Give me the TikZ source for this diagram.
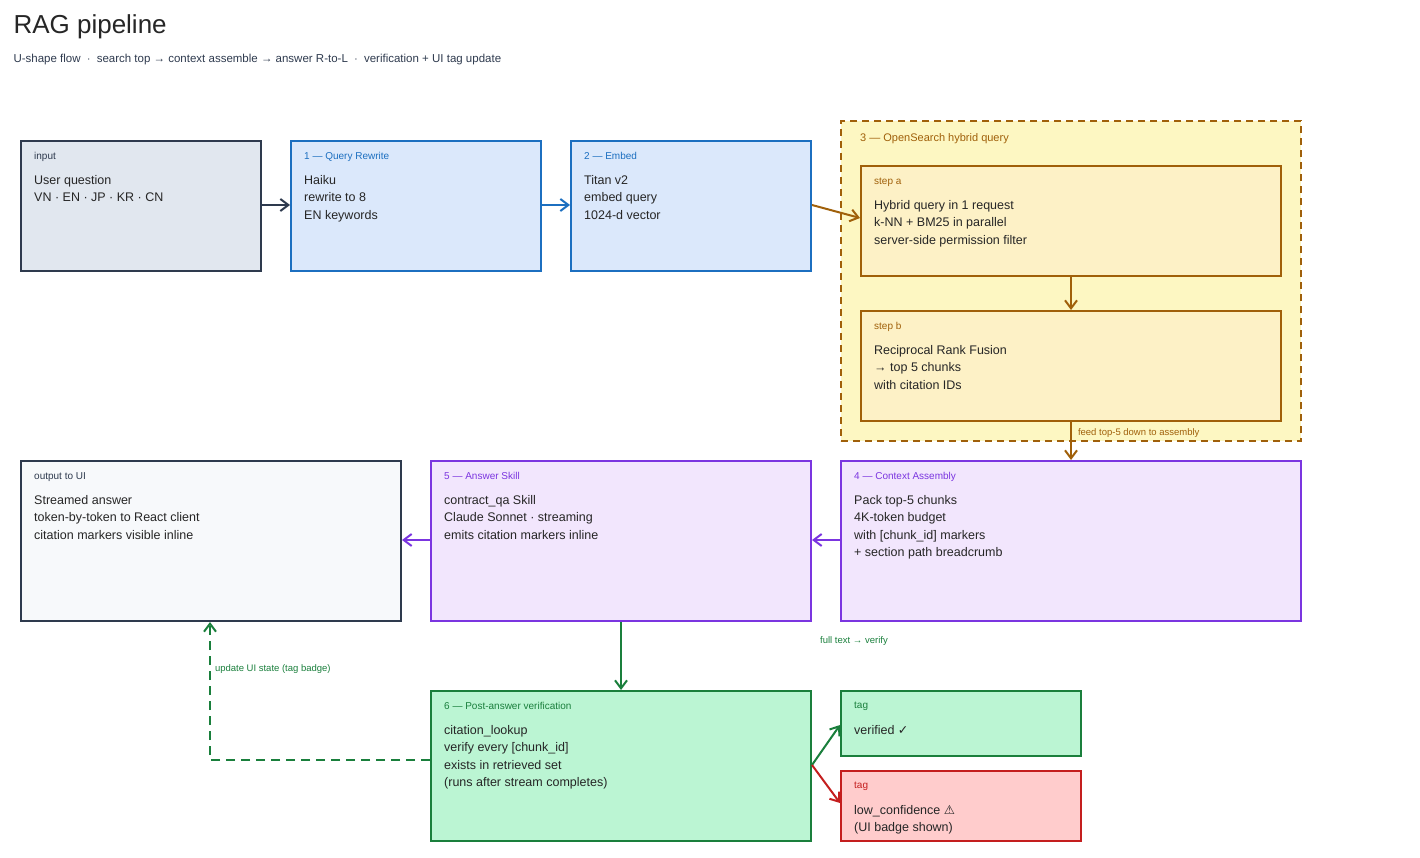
\documentclass[tikz,border=0pt]{standalone}
\usepackage{fontspec}
\setmainfont{Liberation Sans}
\usetikzlibrary{arrows.meta}
\definecolor{slate}{HTML}{2E3A4E}
\definecolor{slatefill}{HTML}{E1E7EF}
\definecolor{outfill}{HTML}{F7F9FB}
\definecolor{blueline}{HTML}{1C6FC0}
\definecolor{bluefill}{HTML}{DBE8FB}
\definecolor{ambline}{HTML}{A0600A}
\definecolor{ambfill}{HTML}{FDF7C2}
\definecolor{stepfill}{HTML}{FDF1C6}
\definecolor{purline}{HTML}{7B35E0}
\definecolor{purfill}{HTML}{F2E6FD}
\definecolor{grnline}{HTML}{1A7F3C}
\definecolor{grnfill}{HTML}{BBF5D3}
\definecolor{redline}{HTML}{C41E1E}
\definecolor{redfill}{HTML}{FFCCCC}
\tikzset{
  box/.style={draw, line width=2pt, anchor=north west, inner sep=0pt},
  hdr/.style={anchor=north west, inner sep=0pt, font=\fontsize{10}{12}\selectfont},
  body/.style={anchor=north west, inner sep=0pt, align=left, text=black!85,
    font=\fontsize{12.5}{17.5}\selectfont},
  arr/.style={-{Straight Barb[length=8pt,width=12pt]}, line width=2pt},
  note/.style={inner sep=0pt, font=\fontsize{9.5}{11}\selectfont}
}
\begin{document}
\begin{tikzpicture}[x=1pt,y=-1pt]
\useasboundingbox (0,0) rectangle (1420,858);
\node[anchor=west, font=\fontsize{26}{30}\selectfont, text=black!85] (title) at (10,27) {RAG pipeline};
\node[anchor=west, font=\fontsize{11.5}{13}\selectfont, text=slate] (sub) at (10,60)
  {U-shape flow \ $\cdot$ \ search top → context assemble → answer R-to-L \ $\cdot$ \ verification + UI tag update};

% group 3
\node[box, dash pattern=on 7pt off 5pt, draw=ambline, fill=ambfill, minimum width=460pt, minimum height=320pt] (grp) at (840,120) {};
\node[hdr, text=ambline, font=\fontsize{11}{13}\selectfont] (grph) at (860,133) {3 — OpenSearch hybrid query};

% boxes
\node[box, draw=slate, fill=slatefill, minimum width=240pt, minimum height=130pt] (inp) at (20,140) {};
\node[box, draw=blueline, fill=bluefill, minimum width=250pt, minimum height=130pt] (rew) at (290,140) {};
\node[box, draw=blueline, fill=bluefill, minimum width=240pt, minimum height=130pt] (emb) at (570,140) {};
\node[box, draw=ambline, fill=stepfill, minimum width=420pt, minimum height=110pt] (sta) at (860,165) {};
\node[box, draw=ambline, fill=stepfill, minimum width=420pt, minimum height=110pt] (stb) at (860,310) {};
\node[box, draw=slate, fill=outfill, minimum width=380pt, minimum height=160pt] (out) at (20,460) {};
\node[box, draw=purline, fill=purfill, minimum width=380pt, minimum height=160pt] (ans) at (430,460) {};
\node[box, draw=purline, fill=purfill, minimum width=460pt, minimum height=160pt] (ctx) at (840,460) {};
\node[box, draw=grnline, fill=grnfill, minimum width=380pt, minimum height=150pt] (ver) at (430,690) {};
\node[box, draw=grnline, fill=grnfill, minimum width=240pt, minimum height=65pt] (tgok) at (840,690) {};
\node[box, draw=redline, fill=redfill, minimum width=240pt, minimum height=70pt] (tglow) at (840,770) {};

% texts
\node[hdr, text=slate] at (34,152) {input};
\node[body] at (34,175) {User question\\VN · EN · JP · KR · CN};
\node[hdr, text=blueline] at (304,152) {1 — Query Rewrite};
\node[body] at (304,175) {Haiku\\rewrite to 8\\EN keywords};
\node[hdr, text=blueline] at (584,152) {2 — Embed};
\node[body] at (584,175) {Titan v2\\embed query\\1024-d vector};
\node[hdr, text=ambline] at (874,178) {step a};
\node[body] at (874,200) {Hybrid query in 1 request\\k-NN + BM25 in parallel\\server-side permission filter};
\node[hdr, text=ambline] at (874,322) {step b};
\node[body] at (874,345) {Reciprocal Rank Fusion\\→ top 5 chunks\\with citation IDs};
\node[hdr, text=slate] at (34,472) {output to UI};
\node[body] at (34,495) {Streamed answer\\token-by-token to React client\\citation markers visible inline};
\node[hdr, text=purline] at (444,472) {5 — Answer Skill};
\node[body] at (444,495) {contract\_qa Skill\\Claude Sonnet · streaming\\emits citation markers inline};
\node[hdr, text=purline] at (854,472) {4 — Context Assembly};
\node[body] at (854,495) {Pack top-5 chunks\\4K-token budget\\with [chunk\_id] markers\\+ section path breadcrumb};
\node[hdr, text=grnline] at (444,702) {6 — Post-answer verification};
\node[body] at (444,725) {citation\_lookup\\verify every [chunk\_id]\\exists in retrieved set\\(runs after stream completes)};
\node[hdr, text=grnline] at (854,702) {tag};
\node[body] at (854,725) {verified {\fontspec{DejaVu Sans}✓}};
\node[hdr, text=redline] at (854,782) {tag};
\node[body] at (854,805) {low\_confidence {\fontspec{DejaVu Sans}⚠}\\(UI badge shown)};

% connectors
\draw[arr, slate] (inp.east |- 0,205) -- (rew.west |- 0,205);
\draw[arr, blueline] (rew.east |- 0,205) -- (emb.west |- 0,205);
\draw[arr, ambline] (emb.east |- 0,205) -- (sta.west |- 0,218);
\draw[arr, ambline] (sta.south) -- (stb.north);
\draw[arr, ambline] (stb.south) -- (ctx.north)
  node[note, text=ambline, anchor=west, pos=0.28, xshift=6pt] {feed top-5 down to assembly};
\draw[arr, grnline] (ans.south) -- (ver.north);
\draw[arr, purline] (ctx.west |- 0,540) -- (ans.east |- 0,540);
\draw[arr, purline] (ans.west |- 0,540) -- (out.east |- 0,540);
\node[note, text=grnline, anchor=west] (ftv) at (820,641) {full text → verify};
\draw[arr, grnline] (ver.east |- 0,765) -- (tgok.west |- 0,725);
\draw[arr, redline] (ver.east |- 0,765) -- (tglow.west |- 0,803);
\draw[arr, grnline, dash pattern=on 9pt off 6pt] (ver.west |- 0,760) -| (out.south -| 210,0)
  node[note, text=grnline, anchor=west, pos=0.83, xshift=4pt] {update UI state (tag badge)};
\end{tikzpicture}
\end{document}
